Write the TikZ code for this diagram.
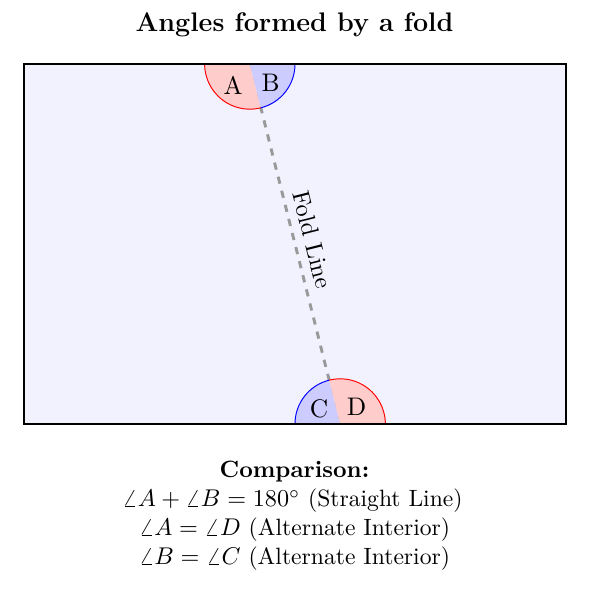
\documentclass[tikz,border=0pt]{standalone}
\usetikzlibrary{calc}
\begin{document}
\begin{tikzpicture}[x=0.4132pt,y=0.4132pt,
  paper/.style={draw=black,thick,fill=blue!5},
  foldline/.style={draw=gray!80,very thick,dashed},
  redwedge/.style={fill=red!20},
  bluewedge/.style={fill=blue!20},
  redarc/.style={draw=red},
  bluearc/.style={draw=blue},
  anglelabel/.style={inner sep=0pt,font=\fontsize{10.5}{12.6}\selectfont},
  textline/.style={anchor=base,inner sep=0pt,font=\fontsize{9.75}{11.7}\selectfont}]
\useasboundingbox (0,0) rectangle (589,594);
% paper
\draw[paper] (24,170) rectangle (566,530);
\coordinate (T) at (249.83,530);
\coordinate (Bm) at (340.17,170);
% fold line
\draw[foldline] (T) -- (Bm) node[midway,above,sloped,text=black] (fl) {Fold Line};
% top wedges
\fill[redwedge] (T) -- ($(T)+(180:45.2)$) arc[start angle=180,end angle=284.09,radius=45.2] -- cycle;
\fill[bluewedge] (T) -- ($(T)+(284.09:45.2)$) arc[start angle=284.09,end angle=360,radius=45.2] -- cycle;
\draw[redarc] ($(T)+(180:45.2)$) arc[start angle=180,end angle=284.09,radius=45.2];
\draw[bluearc] ($(T)+(284.09:45.2)$) arc[start angle=284.09,end angle=360,radius=45.2];
% bottom wedges
\fill[bluewedge] (Bm) -- ($(Bm)+(104.09:45.2)$) arc[start angle=104.09,end angle=180,radius=45.2] -- cycle;
\fill[redwedge] (Bm) -- ($(Bm)+(0:45.2)$) arc[start angle=0,end angle=104.09,radius=45.2] -- cycle;
\draw[bluearc] ($(Bm)+(104.09:45.2)$) arc[start angle=104.09,end angle=180,radius=45.2];
\draw[redarc] ($(Bm)+(0:45.2)$) arc[start angle=0,end angle=104.09,radius=45.2];
% redraw paper border on top of wedges
\draw[thick] (24,170) rectangle (566,530);
% labels
\node[anglelabel] (lA) at ($(T)+(232:27)$) {A};
\node[anglelabel] (lB) at ($(T)+(318:28)$) {B};
\node[anglelabel] (lC) at ($(Bm)+(144:26)$) {C};
\node[anglelabel] (lD) at ($(Bm)+(47:24)$) {D};
% title
\node[textline,font=\fontsize{11.1}{13.3}\selectfont\bfseries] (title) at (294.5,562) {Angles formed by a fold};
% comparison text
\node[textline] (c0) at (294.5,116) {\bfseries Comparison:};
\node[textline] (c1) at (292.5,87) {$\angle A+\angle B=180^\circ$ (Straight Line)};
\node[textline] (c2) at (294.5,58) {$\angle A=\angle D$ (Alternate Interior)};
\node[textline] (c3) at (294.5,29) {$\angle B=\angle C$ (Alternate Interior)};
\end{tikzpicture}
\end{document}
